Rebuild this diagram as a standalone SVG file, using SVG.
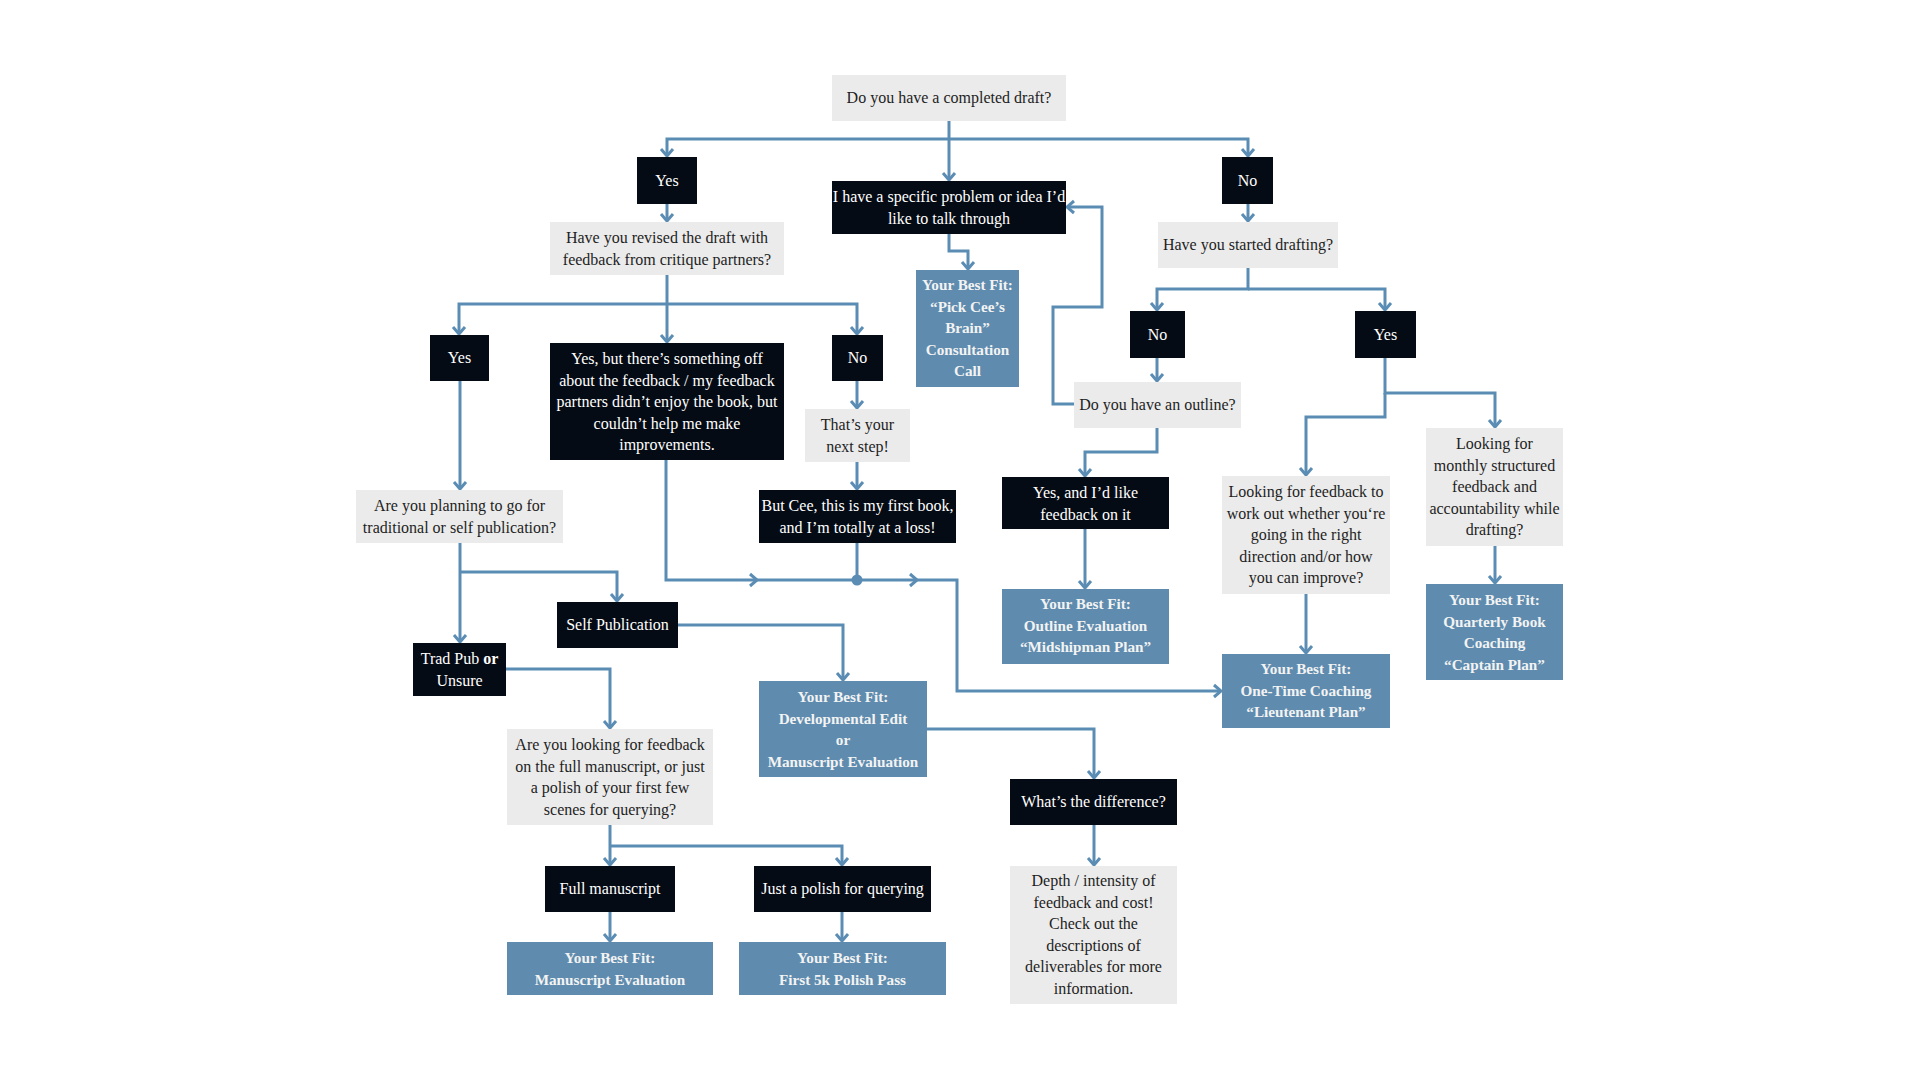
<svg xmlns="http://www.w3.org/2000/svg" width="1920" height="1080" viewBox="0 0 1920 1080">
<style>
.dk{fill:#050b14}
.lt{fill:#ebebeb}
.bl{fill:#5e8bae}
text{font-family:"Liberation Serif","DejaVu Serif",serif;font-size:16px;text-anchor:middle}
.dk+text{fill:#ffffff}
.lt+text{fill:#1e1e1e}
.bl+text{fill:#f3f3f3;font-weight:bold;font-size:15.2px}
.c path{fill:none;stroke:#5b8db4;stroke-width:3}
.c .a{marker-end:url(#arr)}
.c .ch{stroke-width:3;stroke-linejoin:miter}
</style>
<defs>
<marker id="arr" markerUnits="userSpaceOnUse" viewBox="-9 -8 11 16" refX="0" refY="0" markerWidth="11" markerHeight="16" orient="auto">
<path d="M-7,-6 L0,0 L-7,6" fill="none" stroke="#5b8db4" stroke-width="3"/>
</marker>
</defs>
<rect width="1920" height="1080" fill="#ffffff"/>

<g class="c" id="connectors">
<path class="a" d="M949,121 V180"/>
<path class="a" d="M949,139 H667 V156"/>
<path class="a" d="M949,139 H1248 V156"/>
<path class="a" d="M667,204 V221"/>
<path class="a" d="M667,275 V342"/>
<path class="a" d="M667,304 H459 V334"/>
<path class="a" d="M667,304 H857 V334"/>
<path class="a" d="M460,381 V489"/>
<path class="a" d="M857,381 V408"/>
<path class="a" d="M857,462 V489"/>
<path d="M857,543 V580"/>
<path class="a" d="M666,460 V580 H957 V691 H1221"/>
<path class="ch" d="M750,574 L757,580 L750,586"/>
<path class="ch" d="M910,574 L917,580 L910,586"/>
<path class="a" d="M460,543 V642"/>
<path class="a" d="M460,572 H617 V601"/>
<path class="a" d="M506,669 H610 V728"/>
<path class="a" d="M678,625 H843 V680"/>
<path class="a" d="M927,729 H1094 V778"/>
<path class="a" d="M1094,825 V865"/>
<path class="a" d="M610,825 V865"/>
<path class="a" d="M610,846 H842 V865"/>
<path class="a" d="M610,912 V941"/>
<path class="a" d="M842,912 V941"/>
<path class="a" d="M949,234 V251 H968 V269"/>
<path class="a" d="M1074,404 H1053 V307 H1102 V207 H1067"/>
<path class="a" d="M1248,204 V221"/>
<path class="a" d="M1248,268 V289 H1157 V310"/>
<path class="a" d="M1248,289 H1385 V310"/>
<path class="a" d="M1157,358 V381"/>
<path class="a" d="M1157,428 V452 H1085 V476"/>
<path class="a" d="M1085,529 V588"/>
<path class="a" d="M1385,358 V393 H1495 V427"/>
<path class="a" d="M1385,393 V417 H1306 V475"/>
<path class="a" d="M1306,594 V653"/>
<path class="a" d="M1495,546 V583"/>
<circle cx="857" cy="580" r="5.5" fill="#5b8db4"/>
</g>

<g id="n-completed"><rect class="lt" x="832" y="75" width="234" height="46"/><text x="949" y="103">Do you have a completed draft?</text></g>
<g id="n-yes1"><rect class="dk" x="637" y="157" width="60" height="47"/><text x="667" y="186">Yes</text></g>
<g id="n-ihave"><rect class="dk" x="832" y="181" width="234" height="53"/><text x="949" y="202"><tspan x="949">I have a specific problem or idea I’d</tspan><tspan x="949" dy="21.5">like to talk through</tspan></text></g>
<g id="n-no1"><rect class="dk" x="1222" y="157" width="51" height="47"/><text x="1247.5" y="186">No</text></g>
<g id="n-revised"><rect class="lt" x="550" y="222" width="234" height="53"/><text x="667" y="243"><tspan x="667">Have you revised the draft with</tspan><tspan x="667" dy="21.5">feedback from critique partners?</tspan></text></g>
<g id="n-pick"><rect class="bl" x="916" y="270" width="103" height="117"/><text x="967.5" y="290"><tspan x="967.5">Your Best Fit:</tspan><tspan x="967.5" dy="21.5">“Pick Cee’s</tspan><tspan x="967.5" dy="21.5">Brain”</tspan><tspan x="967.5" dy="21.5">Consultation</tspan><tspan x="967.5" dy="21.5">Call</tspan></text></g>
<g id="n-started"><rect class="lt" x="1158" y="222" width="180" height="46"/><text x="1248" y="250">Have you started drafting?</text></g>
<g id="n-yes2"><rect class="dk" x="430" y="335" width="59" height="46"/><text x="459.5" y="363">Yes</text></g>
<g id="n-yesbut"><rect class="dk" x="550" y="343" width="234" height="117"/><text x="667" y="364"><tspan x="667">Yes, but there’s something off</tspan><tspan x="667" dy="21.5">about the feedback / my feedback</tspan><tspan x="667" dy="21.5">partners didn’t enjoy the book, but</tspan><tspan x="667" dy="21.5">couldn’t help me make</tspan><tspan x="667" dy="21.5">improvements.</tspan></text></g>
<g id="n-no2"><rect class="dk" x="832" y="335" width="51" height="46"/><text x="857.5" y="363">No</text></g>
<g id="n-next"><rect class="lt" x="805" y="409" width="105" height="53"/><text x="857.5" y="430"><tspan x="857.5">That’s your</tspan><tspan x="857.5" dy="21.5">next step!</tspan></text></g>
<g id="n-butcee"><rect class="dk" x="759" y="490" width="197" height="53"/><text x="857.5" y="511"><tspan x="857.5">But Cee, this is my first book,</tspan><tspan x="857.5" dy="21.5">and I’m totally at a loss!</tspan></text></g>
<g id="n-no3"><rect class="dk" x="1130" y="311" width="55" height="47"/><text x="1157.5" y="340">No</text></g>
<g id="n-yes3"><rect class="dk" x="1355" y="311" width="61" height="47"/><text x="1385.5" y="340">Yes</text></g>
<g id="n-outline"><rect class="lt" x="1074" y="382" width="167" height="46"/><text x="1157.5" y="410">Do you have an outline?</text></g>
<g id="n-yesid"><rect class="dk" x="1002" y="477" width="167" height="52"/><text x="1085.5" y="498"><tspan x="1085.5">Yes, and I’d like</tspan><tspan x="1085.5" dy="21.5">feedback on it</tspan></text></g>
<g id="n-outlineeval"><rect class="bl" x="1002" y="589" width="167" height="75"/><text x="1085.5" y="609"><tspan x="1085.5">Your Best Fit:</tspan><tspan x="1085.5" dy="21.5">Outline Evaluation</tspan><tspan x="1085.5" dy="21.5">“Midshipman Plan”</tspan></text></g>
<g id="n-lookfb"><rect class="lt" x="1222" y="476" width="168" height="118"/><text x="1306" y="497"><tspan x="1306">Looking for feedback to</tspan><tspan x="1306" dy="21.5">work out whether you‘re</tspan><tspan x="1306" dy="21.5">going in the right</tspan><tspan x="1306" dy="21.5">direction and/or how</tspan><tspan x="1306" dy="21.5">you can improve?</tspan></text></g>
<g id="n-monthly"><rect class="lt" x="1426" y="428" width="137" height="118"/><text x="1494.5" y="449"><tspan x="1494.5">Looking for</tspan><tspan x="1494.5" dy="21.5">monthly structured</tspan><tspan x="1494.5" dy="21.5">feedback and</tspan><tspan x="1494.5" dy="21.5">accountability while</tspan><tspan x="1494.5" dy="21.5">drafting?</tspan></text></g>
<g id="n-onetime"><rect class="bl" x="1222" y="654" width="168" height="74"/><text x="1306" y="674"><tspan x="1306">Your Best Fit:</tspan><tspan x="1306" dy="21.5">One-Time Coaching</tspan><tspan x="1306" dy="21.5">“Lieutenant Plan”</tspan></text></g>
<g id="n-quarterly"><rect class="bl" x="1426" y="584" width="137" height="96"/><text x="1494.5" y="605"><tspan x="1494.5">Your Best Fit:</tspan><tspan x="1494.5" dy="21.5">Quarterly Book</tspan><tspan x="1494.5" dy="21.5">Coaching</tspan><tspan x="1494.5" dy="21.5">“Captain Plan”</tspan></text></g>
<g id="n-planning"><rect class="lt" x="356" y="490" width="207" height="53"/><text x="459.5" y="511"><tspan x="459.5">Are you planning to go for</tspan><tspan x="459.5" dy="21.5">traditional or self publication?</tspan></text></g>
<g id="n-selfpub"><rect class="dk" x="557" y="602" width="121" height="46"/><text x="617.5" y="630">Self Publication</text></g>
<g id="n-tradpub"><rect class="dk" x="413" y="643" width="93" height="53"/><text x="459.5" y="664"><tspan x="459.5">Trad Pub <tspan font-weight="bold">or</tspan></tspan><tspan x="459.5" dy="21.5">Unsure</tspan></text></g>
<g id="n-devedit"><rect class="bl" x="759" y="681" width="168" height="96"/><text x="843" y="702"><tspan x="843">Your Best Fit:</tspan><tspan x="843" dy="21.5">Developmental Edit</tspan><tspan x="843" dy="21.5">or</tspan><tspan x="843" dy="21.5">Manuscript Evaluation</tspan></text></g>
<g id="n-looking"><rect class="lt" x="507" y="729" width="206" height="96"/><text x="610" y="750"><tspan x="610">Are you looking for feedback</tspan><tspan x="610" dy="21.5">on the full manuscript, or just</tspan><tspan x="610" dy="21.5">a polish of your first few</tspan><tspan x="610" dy="21.5">scenes for querying?</tspan></text></g>
<g id="n-whatdiff"><rect class="dk" x="1010" y="779" width="167" height="46"/><text x="1093.5" y="807">What’s the difference?</text></g>
<g id="n-depth"><rect class="lt" x="1010" y="866" width="167" height="138"/><text x="1093.5" y="886"><tspan x="1093.5">Depth / intensity of</tspan><tspan x="1093.5" dy="21.5">feedback and cost!</tspan><tspan x="1093.5" dy="21.5">Check out the</tspan><tspan x="1093.5" dy="21.5">descriptions of</tspan><tspan x="1093.5" dy="21.5">deliverables for more</tspan><tspan x="1093.5" dy="21.5">information.</tspan></text></g>
<g id="n-full"><rect class="dk" x="545" y="866" width="130" height="46"/><text x="610" y="894">Full manuscript</text></g>
<g id="n-polish"><rect class="dk" x="754" y="866" width="177" height="46"/><text x="842.5" y="894">Just a polish for querying</text></g>
<g id="n-me"><rect class="bl" x="507" y="942" width="206" height="53"/><text x="610" y="963"><tspan x="610">Your Best Fit:</tspan><tspan x="610" dy="21.5">Manuscript Evaluation</tspan></text></g>
<g id="n-first5k"><rect class="bl" x="739" y="942" width="207" height="53"/><text x="842.5" y="963"><tspan x="842.5">Your Best Fit:</tspan><tspan x="842.5" dy="21.5">First 5k Polish Pass</tspan></text></g>
</svg>
